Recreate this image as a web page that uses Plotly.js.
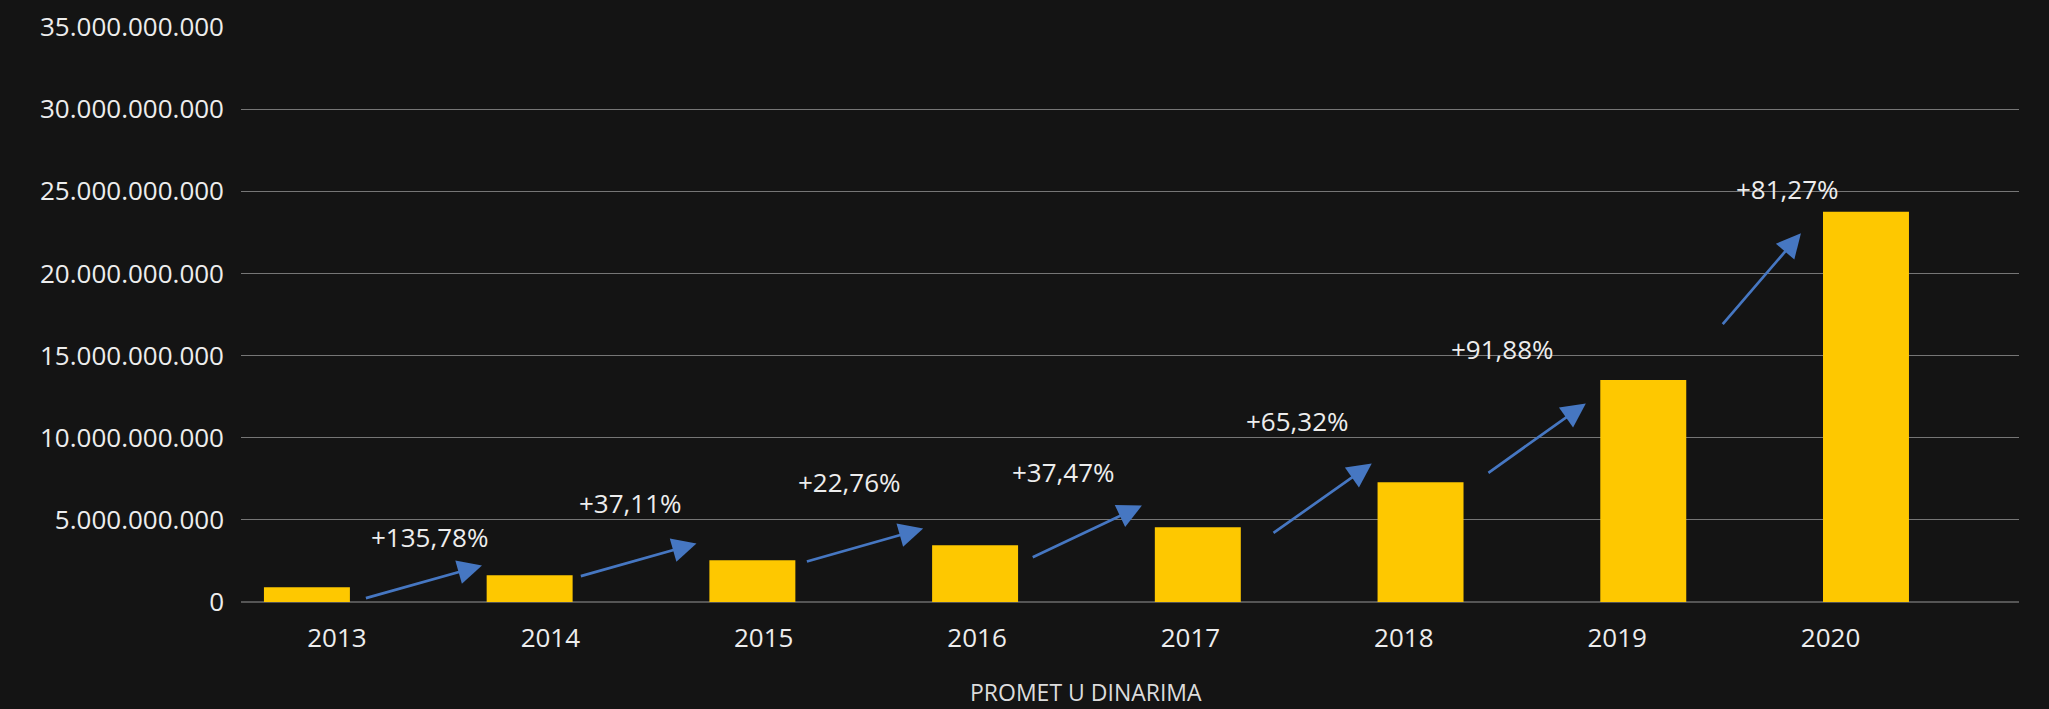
<!DOCTYPE html>
<html>
<head>
<meta charset="utf-8">
<script src="https://cdn.plot.ly/plotly-3.0.1.min.js"></script>
<style>
  html, body { margin: 0; padding: 0; background: #141414; }
  #chart { width: 2049px; height: 709px; }
</style>
</head>
<body>
<div id="chart"></div>
<script>
// ---- data ----
const years = ['2013', '2014', '2015', '2016', '2017', '2018', '2019', '2020'];
const turnover = [0.90e9, 1.63e9, 2.54e9, 3.46e9, 4.55e9, 7.29e9, 13.51e9, 23.75e9];
const growthLabels = ['+135,78%', '+37,11%', '+22,76%', '+37,47%', '+65,32%', '+91,88%', '+81,27%'];
const axisTitle = 'PROMET U DINARIMA';

// ---- layout / decoration settings (positions in axis units) ----
const labelOffset = 0.135, labelStep = 0.958;           // category label placement
const growthTextPos = [[0.552, 3.96e9], [1.455, 6.03e9], [2.434, 7.31e9], [3.395, 7.92e9],
                       [4.448, 11.03e9], [5.366, 15.40e9], [6.646, 25.13e9]];
const arrowTail = [[0.258, 0.21e9], [1.223, 1.55e9], [2.238, 2.44e9], [3.252, 2.68e9],
                   [4.333, 4.14e9], [5.298, 7.80e9], [6.351, 16.82e9]];
const arrowTip  = [[0.786, 2.22e9], [1.749, 3.56e9], [2.767, 4.47e9], [3.749, 5.87e9],
                   [4.781, 8.43e9], [5.742, 12.09e9], [6.708, 22.45e9]];

const FONT = '"Open Sans", "Noto Sans", sans-serif';
const BG = '#141414';
const BAR = '#FEC800';
const ARROW = '#4677C2';
const TEXT = '#EDEDED';

const xIdx = years.map((_, i) => i);

const traces = [{
  type: 'bar',
  x: xIdx,
  y: turnover,
  width: 0.386,
  marker: { color: BAR, line: { width: 0 } },
  hoverinfo: 'skip',
  showlegend: false
}];

const annotations = [];
growthLabels.forEach((t, i) => {
  annotations.push({
    xref: 'x', yref: 'y',
    x: arrowTip[i][0], y: arrowTip[i][1],
    axref: 'x', ayref: 'y',
    ax: arrowTail[i][0], ay: arrowTail[i][1],
    text: '',
    showarrow: true,
    arrowhead: 2,
    arrowsize: 1.8,
    arrowwidth: 2.7,
    arrowcolor: ARROW,
    standoff: 0
  });
  annotations.push({
    xref: 'x', yref: 'y',
    x: growthTextPos[i][0], y: growthTextPos[i][1],
    text: t,
    showarrow: false,
    xanchor: 'center', yanchor: 'middle',
    font: { family: FONT, size: 26, color: TEXT }
  });
});
annotations.push({
  xref: 'paper', yref: 'paper',
  x: 0.475, y: -0.157,
  text: axisTitle,
  showarrow: false,
  xanchor: 'center', yanchor: 'middle',
  font: { family: FONT, size: 23, color: '#DCDCDC' }
});

const layout = {
  width: 2049, height: 709,
  paper_bgcolor: BG, plot_bgcolor: BG,
  margin: { l: 241, r: 30, t: 27, b: 107 },
  separators: ',.',
  font: { family: FONT, color: TEXT },
  showlegend: false,
  hovermode: false,
  xaxis: {
    type: 'linear',
    range: [-0.296, 7.687],
    tickmode: 'array',
    tickvals: years.map((_, i) => labelOffset + i * labelStep),
    ticktext: years,
    showgrid: false,
    zeroline: false,
    showline: false,
    ticks: '',
    ticklabelstandoff: 18,
    tickfont: { family: FONT, size: 26, color: TEXT },
    fixedrange: true
  },
  yaxis: {
    range: [0, 35e9],
    dtick: 5e9,
    tick0: 0,
    tickformat: ',d',
    showgrid: true,
    gridcolor: '#767676',
    gridwidth: 1,
    zeroline: true,
    zerolinecolor: '#555555',
    zerolinewidth: 2,
    showline: false,
    ticks: '',
    ticklabelstandoff: 16,
    tickfont: { family: FONT, size: 26, color: TEXT },
    fixedrange: true
  },
  annotations: annotations
};

Plotly.newPlot('chart', traces, layout, { displayModeBar: false, staticPlot: true });
</script>
</body>
</html>
